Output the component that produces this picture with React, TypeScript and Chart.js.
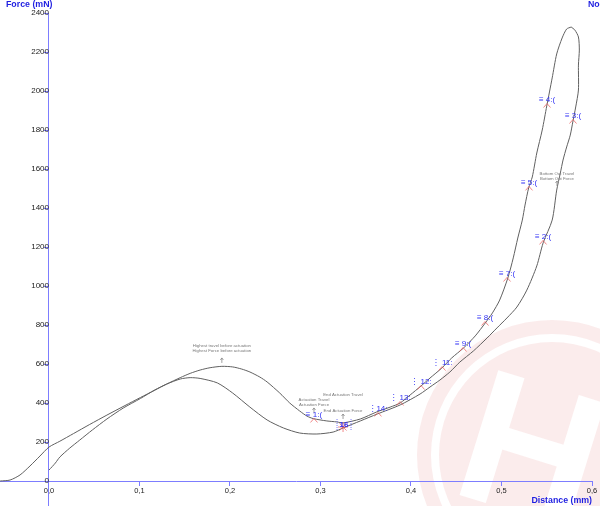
import React, { useEffect, useRef } from 'react';
import { Chart, registerables } from 'chart.js';

Chart.register(...registerables);

// ---- data ----
const pressDistance = [
  -0.054, -0.043, -0.032, -0.021, -0.010, 0.0, 0.012, 0.027, 0.045, 0.064,
  0.084, 0.101, 0.117, 0.130, 0.145, 0.156, 0.167, 0.178, 0.191, 0.203,
  0.213, 0.222, 0.233, 0.241, 0.255, 0.266, 0.277, 0.285, 0.292, 0.307,
  0.318, 0.325, 0.344, 0.362, 0.377, 0.388, 0.399, 0.411, 0.421, 0.434,
  0.445, 0.458, 0.471, 0.482, 0.490, 0.498, 0.507, 0.513, 0.518, 0.523,
  0.526, 0.530, 0.534, 0.539, 0.545, 0.550, 0.556, 0.561, 0.567, 0.572, 0.577,
];
const pressForce = [
  0, 5, 31, 77, 128, 174, 204, 243, 290, 338,
  387, 428, 466, 497, 530, 552, 569, 581, 588, 585,
  574, 559, 533, 508, 451, 400, 359, 333, 320, 308,
  303, 298, 318, 354, 379, 400, 441, 487, 528, 579,
  631, 682, 744, 810, 862, 928, 1041, 1144, 1246, 1338,
  1415, 1503, 1559, 1682, 1800, 1923, 2067, 2190, 2272, 2318, 2328,
];
const releaseDistance = [
  0.577, 0.581, 0.585, 0.586, 0.585, 0.585, 0.582, 0.579, 0.576, 0.572,
  0.568, 0.565, 0.561, 0.556, 0.546, 0.539, 0.528, 0.517, 0.506, 0.495,
  0.484, 0.469, 0.454, 0.443, 0.432, 0.421, 0.410, 0.388, 0.363, 0.344,
  0.325, 0.314, 0.296, 0.277, 0.259, 0.241, 0.222, 0.203, 0.186, 0.167,
  0.156, 0.145, 0.130, 0.117, 0.101, 0.082, 0.064, 0.048, 0.034, 0.023,
  0.012, 0.007, 0.0,
];
const releaseForce = [
  2328, 2313, 2277, 2210, 2133, 2005, 1918, 1846, 1774, 1713,
  1646, 1579, 1492, 1338, 1221, 1103, 979, 892, 836, 785,
  733, 667, 610, 559, 518, 482, 446, 390, 344, 308,
  272, 251, 241, 246, 272, 313, 379, 451, 503, 526,
  530, 523, 497, 467, 423, 374, 318, 262, 210, 169,
  123, 92, 56,
];

const xTicks = [0, 0.1, 0.2, 0.3, 0.4, 0.5, 0.6];
const yTicks = [0, 200, 400, 600, 800, 1000, 1200, 1400, 1600, 1800, 2000, 2200, 2400];

const markerLabels = ['≡ 1:(', '16', '⋮14:', '⋮ 13:', '⋮ 12:', '⋮ 11:', '≡ 9:(', '≡ 8:(', '≡ 7:(', '≡ 5:(', '≡ 4:(', '≡ 3:(', '≡ 2:('];
const markerDistance = [0.2928, 0.3249, 0.3635, 0.3879, 0.4111, 0.4343, 0.4575, 0.4818, 0.5061, 0.5304, 0.5503, 0.5790, 0.5459];
const markerForce = [313, 282, 344, 400, 482, 579, 677, 810, 1036, 1503, 1928, 1846, 1226];

const noteTop = ['Highest travel before actuation', 'Actuation Travel', 'End Actuation Travel', 'Bottom Out Travel'];
const noteBottom = ['Highest Force before actuation', 'Actuation Force', 'End Actuation Force', 'Bottom Out Force'];
const noteDistance = [0.191, 0.2928, 0.3249, 0.5613];
const noteForce = [590, 313, 282, 1477];

const xTitle = 'Distance (mm)';
const yTitle = 'Force (mN)';
const rightTitle = 'No';

// ---- styles ----
const AXIS = 'rgb(125,125,255)';
const TITLE = 'rgb(30,30,225)';
const FONT = 'Arial, "Liberation Sans", "DejaVu Sans", sans-serif';

const watermark = {
  id: 'watermark',
  beforeDraw(chart: any) {
    const c = chart.ctx;
    c.save();
    const cx = 552, cy = 455;
    c.fillStyle = 'rgba(215,40,40,0.09)';
    c.beginPath();
    c.arc(cx, cy, 135, 0, Math.PI * 2);
    c.arc(cx, cy, 121, 0, Math.PI * 2, true);
    c.fill();
    c.beginPath();
    c.arc(cx, cy, 113, 0, Math.PI * 2);
    c.fill();
    c.translate(cx - 20, cy - 5);
    c.rotate(0.3);
    c.fillStyle = '#ffffff';
    c.font = 'bold 190px ' + FONT;
    c.textAlign = 'center';
    c.textBaseline = 'middle';
    c.fillText('H', 0, 12);
    c.restore();
  },
};

const overlay = {
  id: 'overlay',
  afterDatasetsDraw(chart: any) {
    const c = chart.ctx;
    const xs = chart.scales.x;
    const ys = chart.scales.y;
    c.save();
    // notes
    const topOff = [-20, -20, -31, -19];
    const botOff = [-15, -15, -15, -14];
    c.font = '4.3px ' + FONT;
    c.fillStyle = '#777';
    c.strokeStyle = '#888';
    c.lineWidth = 0.8;
    c.textAlign = 'center';
    c.textBaseline = 'middle';
    for (let i = 0; i < noteTop.length; i++) {
      const px = xs.getPixelForValue(noteDistance[i]);
      const py = ys.getPixelForValue(noteForce[i]);
      c.fillText(noteTop[i], px, py + topOff[i]);
      c.fillText(noteBottom[i], px, py + botOff[i]);
      const a0 = i === 0 ? py - 3 : py - 7;
      const a1 = a0 - 5;
      c.beginPath();
      c.moveTo(px, a0);
      c.lineTo(px, a1);
      c.moveTo(px - 1.5, a1 + 2);
      c.lineTo(px, a1);
      c.lineTo(px + 1.5, a1 + 2);
      c.stroke();
    }
    // markers
    for (let i = 0; i < markerLabels.length; i++) {
      const px = xs.getPixelForValue(markerDistance[i]);
      const py = ys.getPixelForValue(markerForce[i]);
      const special = markerLabels[i] === '16';
      c.strokeStyle = 'rgba(235,90,90,0.9)';
      c.lineWidth = 0.8;
      c.beginPath();
      if (special) {
        for (let k = 0; k < 8; k++) {
          const ang = (k * Math.PI) / 4;
          c.moveTo(px, py + 1);
          c.lineTo(px + Math.cos(ang) * 5, py + 1 + Math.sin(ang) * 5);
        }
      } else {
        c.moveTo(px - 3.5, py + 2.5);
        c.lineTo(px, py - 1.5);
        c.lineTo(px + 3.5, py + 2.5);
      }
      c.stroke();
      c.fillStyle = 'rgb(50,50,245)';
      c.font = '8px ' + FONT;
      c.textAlign = 'center';
      c.textBaseline = 'middle';
      if (special) {
        c.font = 'bold 8px ' + FONT;
        c.fillText('16', px + 1, py - 1);
        c.strokeStyle = 'rgb(90,90,245)';
        c.setLineDash([1, 1]);
        c.beginPath();
        c.moveTo(px - 6, py - 7);
        c.lineTo(px - 6, py + 5);
        c.moveTo(px + 8, py - 7);
        c.lineTo(px + 8, py + 5);
        c.stroke();
        c.setLineDash([]);
      } else {
        c.fillText(markerLabels[i], px, py - 5);
      }
    }
    c.restore();
  },
  afterDraw(chart: any) {
    const c = chart.ctx;
    c.save();
    c.fillStyle = TITLE;
    c.font = 'bold 8.8px ' + FONT;
    c.textBaseline = 'alphabetic';
    c.textAlign = 'left';
    c.fillText(yTitle, 6, 6.5);
    c.fillText(rightTitle, 588, 6.5);
    c.textAlign = 'right';
    c.fillText(xTitle, 592, 502.5);
    c.restore();
  },
};

export default function App() {
  const ref = useRef<HTMLCanvasElement>(null);
  useEffect(() => {
    document.body.style.margin = '0';
    const canvas = ref.current;
    if (!canvas) return;
    const press = pressDistance.map((d, i) => ({ x: d, y: pressForce[i] }));
    const release = releaseDistance.map((d, i) => ({ x: d, y: releaseForce[i] }));
    const chart = new Chart(canvas, {
      type: 'scatter',
      data: {
        datasets: [
          { data: press, showLine: true, borderColor: '#606060', borderWidth: 1, pointRadius: 0, tension: 0.25 },
          { data: release, showLine: true, borderColor: '#606060', borderWidth: 1, pointRadius: 0, tension: 0.25 },
        ],
      },
      options: {
        responsive: false,
        animation: false,
        devicePixelRatio: 1,
        layout: { padding: { left: 0, right: 8, top: 13, bottom: 0 } },
        plugins: { legend: { display: false }, tooltip: { enabled: false } },
        scales: {
          x: {
            type: 'linear',
            min: -0.05414,
            max: 0.6,
            position: { y: 0 } as any,
            afterBuildTicks: (s: any) => { s.ticks = xTicks.map((v) => ({ value: v })); },
            afterFit: (s: any) => { s.paddingLeft = 0; s.paddingRight = 0; s.paddingTop = 0; s.paddingBottom = 0; },
            grid: { drawOnChartArea: false, drawTicks: true, tickLength: 4, color: AXIS },
            border: { display: true, color: AXIS, width: 1 },
            ticks: {
              padding: 1,
              color: '#222',
              font: { size: 7.5, family: FONT },
              maxRotation: 0,
              autoSkip: false,
              callback: (v: any) => Number(v).toFixed(1).replace('.', ','),
            },
          },
          y: {
            type: 'linear',
            min: -128.2,
            max: 2400,
            position: { x: 0 } as any,
            afterBuildTicks: (s: any) => { s.ticks = yTicks.map((v) => ({ value: v })); },
            afterFit: (s: any) => { s.paddingLeft = 0; s.paddingRight = 0; s.paddingTop = 0; s.paddingBottom = 0; },
            grid: { drawOnChartArea: false, drawTicks: true, tickLength: 4, color: AXIS },
            border: { display: true, color: AXIS, width: 1 },
            ticks: {
              padding: 1,
              color: '#222',
              font: { size: 8, family: FONT },
              autoSkip: false,
              callback: (v: any) => String(v),
            },
          },
        },
      },
      plugins: [watermark, overlay],
    } as any);
    return () => chart.destroy();
  }, []);
  return (
    <div style={{ width: 600, height: 506 }}>
      <canvas ref={ref} width={600} height={506} style={{ display: 'block' }} />
    </div>
  );
}
